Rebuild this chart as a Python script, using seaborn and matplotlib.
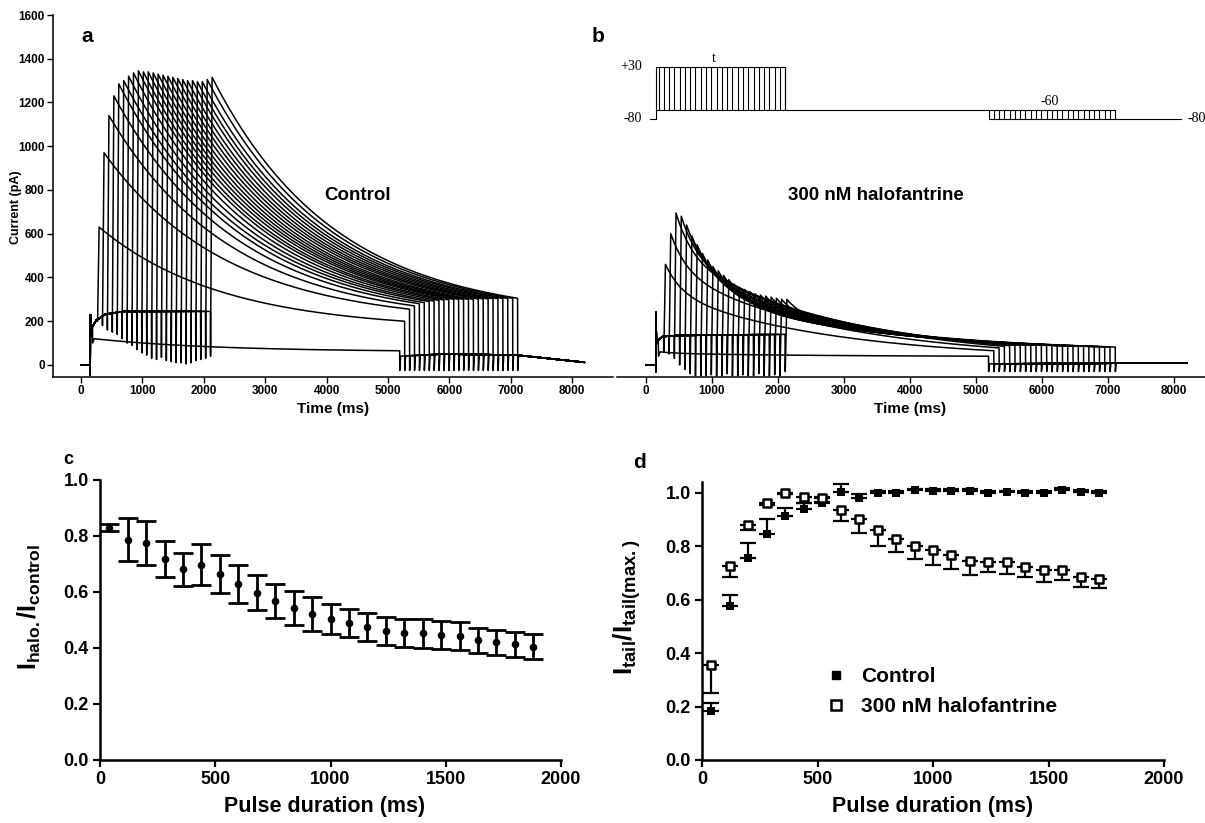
import numpy as np
import pandas as pd
import matplotlib
matplotlib.use("Agg")
import matplotlib.pyplot as plt
from matplotlib.lines import Line2D
import seaborn as sns

# ---------------- data ----------------
# pulse durations of the voltage protocol (ms)
pulse_ms = [40, 120, 200, 280, 360, 440, 520, 600, 680, 760, 840, 920, 1000,
            1080, 1160, 1240, 1320, 1400, 1480, 1560, 1640, 1720, 1800, 1880, 1960]

# panel a (control) : tail current read-outs per sweep (pA)
ctrl_tail_peak = [120, 630, 970, 1140, 1230, 1285, 1300, 1320, 1335, 1345, 1340, 1340, 1335,
                  1330, 1325, 1320, 1315, 1310, 1305, 1300, 1300, 1295, 1295, 1305, 1315]
ctrl_tail_end = [65, 200, 255, 270, 280, 285, 290, 292, 295, 297, 298, 300, 300,
                 300, 300, 300, 302, 302, 302, 303, 303, 304, 304, 305, 305]
ctrl_step_dip = [100, 200, 180, 160, 150, 140, 120, 100, 90, 70, 55, 45, 30,
                 25, 35, 20, 15, 10, 10, 5, 10, 20, 25, 30, 40]
ctrl_step_t = [150, 175, 250, 400, 700, 2110]
ctrl_step_i = [115, 170, 205, 232, 245, 245]
ctrl_after_t = [5190, 5900, 7100, 8200]
ctrl_after_i = [40, 50, 45, 12]

# panel b (300 nM halofantrine)
halo_tail_peak = [60, 460, 600, 695, 680, 640, 590, 550, 510, 480, 450, 430, 410,
                  390, 370, 355, 345, 335, 325, 320, 315, 310, 305, 300, 300]
halo_tail_end = [40, 65, 78, 85, 88, 90, 90, 90, 90, 90, 90, 90, 90,
                 88, 88, 88, 86, 86, 85, 85, 84, 84, 83, 82, 82]
halo_step_dip = [40, 60, 50, 30, 0, -20, -40, -50, -50, -50, -45, -50, -50,
                 -40, -50, -50, -45, -50, -50, -40, -50, -50, -45, -50, -30]
halo_step_t = [150, 175, 250, 500, 2110]
halo_step_i = [90, 110, 130, 135, 140]
halo_after_t = [5190, 7100, 8200]
halo_after_i = [5, 8, 8]

# panel c
c_dur = [40, 120, 200, 280, 360, 440, 520, 600, 680, 760, 840, 920,
         1000, 1080, 1160, 1240, 1320, 1400, 1480, 1560, 1640, 1720, 1800, 1880]
c_ratio = [0.83, 0.787, 0.775, 0.718, 0.681, 0.697, 0.664, 0.629, 0.597, 0.567, 0.542, 0.522,
           0.504, 0.488, 0.476, 0.462, 0.453, 0.452, 0.446, 0.443, 0.427, 0.421, 0.413, 0.404]
c_err = [0.012, 0.076, 0.08, 0.065, 0.06, 0.073, 0.067, 0.067, 0.063, 0.06, 0.06, 0.06,
         0.054, 0.05, 0.05, 0.05, 0.05, 0.053, 0.049, 0.05, 0.045, 0.045, 0.045, 0.045]

# panel d
d_dur = [40, 120, 200, 280, 360, 440, 520, 600, 680, 760, 840, 920, 1000,
         1080, 1160, 1240, 1320, 1400, 1480, 1560, 1640, 1720]
d_ctrl = [0.184, 0.577, 0.754, 0.847, 0.912, 0.94, 0.96, 1.004, 0.982, 1.0, 1.0, 1.01, 1.008,
          1.008, 1.008, 1.0, 1.003, 1.0, 1.0, 1.01, 1.004, 1.0]
d_ctrl_err = [0.03, 0.04, 0.056, 0.053, 0.032, 0.02, 0.025, 0.03, 0.012, 0.005, 0.005, 0.005,
              0.005, 0.005, 0.005, 0.005, 0.005, 0.005, 0.005, 0.008, 0.005, 0.005]
d_halo = [0.356, 0.727, 0.881, 0.963, 1.0, 0.983, 0.98, 0.934, 0.9, 0.86, 0.828, 0.8, 0.785,
          0.766, 0.746, 0.742, 0.742, 0.722, 0.71, 0.712, 0.686, 0.676]
d_halo_err = [0.106, 0.041, 0.02, 0.01, 0.005, 0.02, 0.015, 0.04, 0.05, 0.06, 0.05, 0.048,
              0.056, 0.053, 0.054, 0.04, 0.047, 0.036, 0.043, 0.04, 0.038, 0.031]

# protocol levels (mV)
v_step, v_tail, v_hold = 30, -60, -80

# ---------------- style ----------------
sns.set_theme(style="ticks")
plt.rcParams["font.family"] = ["Liberation Sans", "DejaVu Sans"]
for key in ["text.color", "axes.labelcolor", "xtick.color", "ytick.color", "axes.edgecolor"]:
    plt.rcParams[key] = "black"
plt.rcParams["mathtext.fontset"] = "custom"
plt.rcParams["mathtext.rm"] = "Liberation Sans:bold"
plt.rcParams["mathtext.it"] = "Liberation Sans:bold"
plt.rcParams["mathtext.bf"] = "Liberation Sans:bold"
NARROW = ["Liberation Sans Narrow", "Liberation Sans", "DejaVu Sans"]
BOLD = ["Liberation Sans", "DejaVu Sans"]

W, H = 1205, 823
fig = plt.figure(figsize=(W / 100, H / 100), dpi=100)
fig.patch.set_facecolor("white")


def px_axes(left, right, top, bottom):
    return fig.add_axes([left / W, 1 - bottom / H, (right - left) / W, (bottom - top) / H])


STEP_ON, TAIL_LEN, T_END = 150.0, 5000.0, 8200.0


def build_traces(peaks, ends, dips, step_t, step_i, after_t, after_i,
                 onset_dip, onset_spike, post_dip, a_fast, tau_fast, tau_slow):
    rows = []
    L = TAIL_LEN - 25
    gL = a_fast * np.exp(-L / tau_fast) + (1 - a_fast) * np.exp(-L / tau_slow)
    for k, tk in enumerate(pulse_ms):
        e = STEP_ON + tk
        ts = [0.0, STEP_ON - 2, STEP_ON, STEP_ON + 2]
        vs = [0.0, 0.0, onset_dip, onset_spike]
        pts = sorted(set([STEP_ON + 8] + [x for x in step_t if STEP_ON + 8 < x < e - 3] + [e - 3]))
        ts += pts
        vs += list(np.interp(pts, step_t, step_i))
        ts += [e, e + 25]
        vs += [dips[k], peaks[k]]
        s = np.linspace(0, L, 160)[1:]
        g = a_fast * np.exp(-s / tau_fast) + (1 - a_fast) * np.exp(-s / tau_slow)
        f = (g - gL) / (1 - gL)
        ts += list(e + 25 + s)
        vs += list(ends[k] + (peaks[k] - ends[k]) * f)
        te = e + TAIL_LEN
        ts += [te + 2, te + 15]
        vs += [post_dip, float(np.interp(te + 15, after_t, after_i))]
        ap = sorted(set([x for x in after_t if x > te + 15] + [T_END]))
        ts += ap
        vs += list(np.interp(ap, after_t, after_i))
        rows.append(pd.DataFrame({"t": ts, "i": vs, "sweep": k}))
    return pd.concat(rows, ignore_index=True)


ctrl_df = build_traces(ctrl_tail_peak, ctrl_tail_end, ctrl_step_dip, ctrl_step_t, ctrl_step_i,
                       ctrl_after_t, ctrl_after_i, -45, 230, -25, 0.0, 300.0, 2000.0)
halo_df = build_traces(halo_tail_peak, halo_tail_end, halo_step_dip, halo_step_t, halo_step_i,
                       halo_after_t, halo_after_i, -30, 240, -30, 0.3, 250.0, 2500.0)

SMALL = 8.5

# ---------------- panel a ----------------
axa = px_axes(53, 613, 15, 377)
sns.lineplot(data=ctrl_df, x="t", y="i", units="sweep", estimator=None, sort=False,
             color="black", linewidth=1.1, ax=axa, legend=False)
axa.set_xlim(-456, 8664)
axa.set_ylim(-55, 1600)
axa.set_xticks(range(0, 8001, 1000))
axa.set_yticks(range(0, 1601, 200))
sns.despine(ax=axa)
for sp in ["left", "bottom"]:
    axa.spines[sp].set_linewidth(1.1)
axa.tick_params(direction="out", length=4, width=1, pad=2)
for lab in axa.get_xticklabels() + axa.get_yticklabels():
    lab.set_fontsize(SMALL); lab.set_fontweight("bold"); lab.set_family(NARROW)
axa.set_xlabel("Time (ms)", fontsize=11, fontweight="bold", family=NARROW)
axa.set_ylabel("Current (pA)", fontsize=9, fontweight="bold", family=NARROW)
axa.xaxis.set_label_coords(0.5, -0.068)
axa.yaxis.set_label_coords(-0.056, 0.47)
fig.text(358 / W, 1 - 195 / H, "Control", ha="center", va="center", fontsize=13.5,
         fontweight="bold", family=BOLD)
fig.text(87 / W, 1 - 37 / H, "a", ha="center", va="center", fontsize=15,
         fontweight="bold", family=BOLD)

# ---------------- panel b ----------------
axb = px_axes(617, 1205, 15, 377)
sns.lineplot(data=halo_df, x="t", y="i", units="sweep", estimator=None, sort=False,
             color="black", linewidth=1.1, ax=axb, legend=False)
axb.set_xlim(-439, 8470)
axb.set_ylim(-55, 1600)
axb.set_xticks(range(0, 8001, 1000))
axb.set_yticks([])
sns.despine(ax=axb, left=True)
axb.spines["bottom"].set_linewidth(1.1)
axb.tick_params(axis="x", direction="out", length=4, width=1, pad=2)
for lab in axb.get_xticklabels():
    lab.set_fontsize(SMALL); lab.set_fontweight("bold"); lab.set_family(NARROW)
axb.set_xlabel("Time (ms)", fontsize=11, fontweight="bold", family=NARROW)
axb.set_ylabel("")
axb.xaxis.set_label_coords(0.498, -0.068)
fig.text(876 / W, 1 - 195 / H, "300 nM halofantrine", ha="center", va="center",
         fontsize=13.5, fontweight="bold", family=BOLD)
fig.text(598 / W, 1 - 37 / H, "b", ha="center", va="center", fontsize=15,
         fontweight="bold", family=BOLD)

# protocol inset
axp = px_axes(617, 1205, 45, 130)
axp.set_xlim(-439, 8470)
axp.set_ylim(-103.3, 76.5)
axp.axis("off")
pk = dict(color="black", linewidth=0.8)
p_end = STEP_ON + pulse_ms[-1]
axp.plot([60, STEP_ON, STEP_ON, p_end, p_end], [v_hold, v_hold, v_step, v_step, v_tail], **pk)
axp.plot([STEP_ON, TAIL_LEN + STEP_ON + pulse_ms[-1]], [v_tail, v_tail], **pk)
axp.vlines([STEP_ON + t for t in pulse_ms], v_tail, v_step, **pk)
axp.plot([TAIL_LEN + STEP_ON + pulse_ms[0], TAIL_LEN + p_end, 8100],
         [v_hold, v_hold, v_hold], **pk)
axp.vlines([TAIL_LEN + STEP_ON + t for t in pulse_ms], v_hold, v_tail, **pk)
serif = ["Liberation Serif", "DejaVu Serif"]
axp.text(-60, v_step, "+30", ha="right", va="center", fontsize=10, family=serif)
axp.text(-60, v_hold, "-80", ha="right", va="center", fontsize=10, family=serif)
axp.text(1030, v_step + 4, "t", ha="center", va="bottom", fontsize=10, family=serif)
axp.text(6120, v_tail + 3, "-60", ha="center", va="bottom", fontsize=10, family=serif)
axp.text(8200, v_hold, "-80", ha="left", va="center", fontsize=10, family=serif, clip_on=False)

# ---------------- panel c ----------------
axc = px_axes(100, 561, 480, 760)
axc.errorbar(c_dur, c_ratio, yerr=c_err, fmt="none", ecolor="black", elinewidth=2.0,
             capsize=7, capthick=2.0, zorder=2)
sns.scatterplot(x=c_dur, y=c_ratio, ax=axc, color="black", marker="o", s=30,
                linewidth=0, zorder=3, legend=False)
axc.set_xlim(0, 2000)
axc.set_ylim(0, 1.0)
axc.set_xticks([0, 500, 1000, 1500, 2000])
axc.set_yticks([0.0, 0.2, 0.4, 0.6, 0.8, 1.0])
axc.set_yticklabels(["0.0", "0.2", "0.4", "0.6", "0.8", "1.0"])
sns.despine(ax=axc)
for sp in ["left", "bottom"]:
    axc.spines[sp].set_linewidth(1.8)
axc.tick_params(direction="out", length=5, width=1.6, pad=3)
for lab in axc.get_xticklabels() + axc.get_yticklabels():
    lab.set_fontsize(13); lab.set_fontweight("bold"); lab.set_family(BOLD)
axc.set_xlabel("Pulse duration (ms)", fontsize=15.5, fontweight="bold", family=BOLD)
axc.set_ylabel(r"$\mathrm{I_{halo.}/I_{control}}$", fontsize=18)
axc.xaxis.set_label_coords(0.488, -0.128)
axc.yaxis.set_label_coords(-0.124, 0.546)
fig.text(68 / W, 1 - 460 / H, "c", ha="center", va="center", fontsize=13,
         fontweight="bold", family=BOLD)

# ---------------- panel d ----------------
axd = px_axes(702, 1164, 482, 760)
zeros = [0] * len(d_dur)
axd.errorbar(d_dur, d_ctrl, yerr=[zeros, d_ctrl_err], fmt="none", ecolor="black",
             elinewidth=1.6, capsize=6, capthick=1.6, zorder=2)
axd.errorbar(d_dur, d_halo, yerr=[d_halo_err, zeros], fmt="none", ecolor="black",
             elinewidth=1.6, capsize=6, capthick=1.6, zorder=2)
sns.scatterplot(x=d_dur, y=d_ctrl, ax=axd, color="black", marker="s", s=34,
                linewidth=0, zorder=3, legend=False)
sns.scatterplot(x=d_dur, y=d_halo, ax=axd, marker="s", s=38, facecolor="white",
                edgecolor="black", linewidth=1.8, zorder=4, legend=False)
axd.set_xlim(0, 2000)
axd.set_ylim(0, 1.04)
axd.set_xticks([0, 500, 1000, 1500, 2000])
axd.set_yticks([0.0, 0.2, 0.4, 0.6, 0.8, 1.0])
axd.set_yticklabels(["0.0", "0.2", "0.4", "0.6", "0.8", "1.0"])
sns.despine(ax=axd)
for sp in ["left", "bottom"]:
    axd.spines[sp].set_linewidth(1.8)
axd.tick_params(direction="out", length=5, width=1.6, pad=3)
for lab in axd.get_xticklabels() + axd.get_yticklabels():
    lab.set_fontsize(13); lab.set_fontweight("bold"); lab.set_family(BOLD)
axd.set_xlabel("Pulse duration (ms)", fontsize=15.5, fontweight="bold", family=BOLD)
axd.set_ylabel(r"$\mathrm{I_{tail}/I_{tail(max.)}}$", fontsize=19)
axd.xaxis.set_label_coords(0.5, -0.13)
axd.yaxis.set_label_coords(-0.128, 0.55)
fig.text(640 / W, 1 - 463 / H, "d", ha="center", va="center", fontsize=15,
         fontweight="bold", family=BOLD)

handles = [Line2D([], [], linestyle="none", marker="s", markersize=6, color="black"),
           Line2D([], [], linestyle="none", marker="s", markersize=6.5,
                  markerfacecolor="white", markeredgecolor="black", markeredgewidth=1.8)]
axd.legend(handles, ["Control", "300 nM halofantrine"], loc="upper left",
           bbox_to_anchor=(826 / W, 1 - 667 / H), bbox_transform=fig.transFigure,
           frameon=False, borderpad=0, borderaxespad=0, handlelength=1.0,
           handletextpad=0.7, labelspacing=0.55,
           prop=dict(size=15, weight="bold", family=BOLD))

fig.savefig("out.png", dpi=100, facecolor="white")
